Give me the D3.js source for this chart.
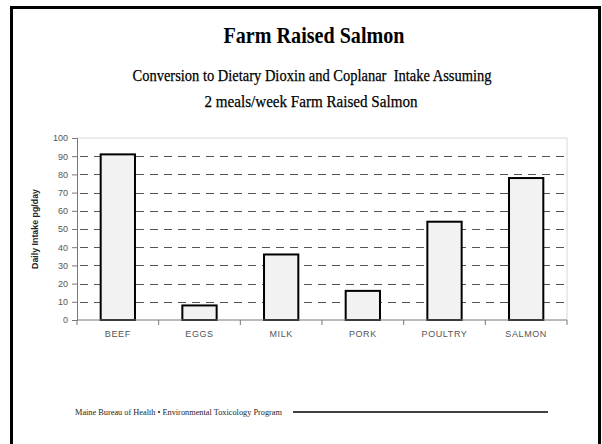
<!DOCTYPE html>
<html>
<head>
<meta charset="utf-8">
<script src="https://cdn.jsdelivr.net/npm/d3@7"></script>
<style>
  body { margin: 0; background: #fff; }
  svg { display: block; }
</style>
</head>
<body>
<svg id="chart" width="602" height="444"></svg>
<script>
// chart data
const categories = ["BEEF", "EGGS", "MILK", "PORK", "POULTRY", "SALMON"];
const intake = [91, 8, 36, 16, 54, 78];
const yTicks = [0, 10, 20, 30, 40, 50, 60, 70, 80, 90, 100];

const titleText = "Farm Raised Salmon";
const subLine1 = "Conversion to Dietary Dioxin and Coplanar  Intake Assuming";
const subLine2 = "2 meals/week Farm Raised Salmon";
const footerText = "Maine Bureau of Health \u2022 Environmental Toxicology Program";
const yLabel = "Daily Intake pg/day";

svg = d3.select("#chart");

// slide frame
svg.append("rect")
    .attr("x", 11.5).attr("y", 7.5)
    .attr("width", 588).attr("height", 460)
    .attr("fill", "white")
    .attr("stroke", "black")
    .attr("stroke-width", 3);

// titles
svg.append("text")
    .attr("x", 314).attr("y", 43)
    .attr("text-anchor", "middle")
    .style("font-family", "Liberation Serif, serif")
    .style("font-weight", "bold")
    .style("font-size", "24px")
    .attr("textLength", 181).attr("lengthAdjust", "spacingAndGlyphs")
    .text(titleText);

svg.append("text")
    .attr("x", 312).attr("y", 81)
    .attr("text-anchor", "middle")
    .style("font-family", "Liberation Serif, serif")
    .style("font-size", "17px")
    .style("white-space", "pre")
    .attr("stroke", "black").attr("stroke-width", 0.25)
    .attr("textLength", 359).attr("lengthAdjust", "spacingAndGlyphs")
    .text(subLine1);

svg.append("text")
    .attr("x", 311).attr("y", 107)
    .attr("text-anchor", "middle")
    .style("font-family", "Liberation Serif, serif")
    .style("font-size", "17px")
    .attr("stroke", "black").attr("stroke-width", 0.25)
    .attr("textLength", 213).attr("lengthAdjust", "spacingAndGlyphs")
    .text(subLine2);

// plot area
margin = {left: 77, right: 567, top: 138, bottom: 320};

x = d3.scaleBand().domain(categories).range([margin.left, margin.right]).paddingInner(0.58).paddingOuter(0.29);
y = d3.scaleLinear().domain([0, 100]).range([margin.bottom, margin.top]);

// light plot border (top & right)
svg.append("path")
    .attr("d", `M${margin.left},${margin.top}H${margin.right}V${margin.bottom}`)
    .attr("fill", "none")
    .attr("stroke", "#d8d8d8")
    .attr("stroke-width", 1);

// dashed gridlines
svg.selectAll(".grid")
    .data(yTicks.filter(d => d > 0 && d < 100))
    .join("line")
    .classed("grid", true)
    .attr("x1", margin.left).attr("x2", margin.right)
    .attr("y1", d => Math.round(y(d)) + 0.5)
    .attr("y2", d => Math.round(y(d)) + 0.5)
    .attr("stroke", "#555")
    .attr("stroke-width", 1)
    .attr("stroke-dasharray", "8,6")
    .attr("stroke-dashoffset", -3);

// bars
svg.selectAll(".bar")
    .data(categories)
    .join("rect")
    .classed("bar", true)
    .attr("x", d => x(d))
    .attr("width", x.bandwidth())
    .attr("y", (d, i) => y(intake[i]))
    .attr("height", (d, i) => y(0) - y(intake[i]))
    .attr("fill", "#f2f2f2")
    .attr("stroke", "black")
    .attr("stroke-width", 2);

// y axis
yAxis = d3.axisLeft(y).tickValues(yTicks).tickSize(5).tickPadding(4);
yg = svg.append("g")
    .attr("transform", `translate(${margin.left},0)`)
    .call(yAxis);
yg.select(".domain").attr("stroke", "#777");
yg.selectAll(".tick line").attr("stroke", "#777");
yg.selectAll(".tick text")
    .attr("fill", "#555")
    .style("font-family", "Liberation Sans, Arial, sans-serif")
    .style("font-size", "9px");

// x axis: ticks sit between categories
xg = svg.append("g")
    .attr("transform", `translate(0,${margin.bottom})`);
xg.append("line")
    .attr("x1", margin.left).attr("x2", margin.right)
    .attr("stroke", "#777");
bounds = d3.range(categories.length + 1).map(i => margin.left + i * x.step());
xg.selectAll(".xtick")
    .data(bounds)
    .join("line")
    .classed("xtick", true)
    .attr("x1", d => d).attr("x2", d => d)
    .attr("y1", 0).attr("y2", 5)
    .attr("stroke", "#777");
xg.selectAll(".xlabel")
    .data(categories)
    .join("text")
    .classed("xlabel", true)
    .attr("x", d => x(d) + x.bandwidth() / 2)
    .attr("y", 17)
    .attr("text-anchor", "middle")
    .attr("fill", "#555")
    .style("font-family", "Liberation Sans, Arial, sans-serif")
    .style("font-size", "9px")
    .style("letter-spacing", "0.6px")
    .text(d => d);

// y label
svg.append("text")
    .attr("transform", `translate(38,${(margin.top + margin.bottom) / 2}) rotate(-90)`)
    .attr("text-anchor", "middle")
    .style("font-family", "Liberation Sans, Arial, sans-serif")
    .style("font-weight", "bold")
    .style("font-size", "8.5px")
    .attr("fill", "#222")
    .attr("textLength", 80).attr("lengthAdjust", "spacingAndGlyphs")
    .text(yLabel);

// footer
svg.append("text")
    .attr("x", 75).attr("y", 415)
    .style("font-family", "Liberation Serif, serif")
    .style("font-size", "9px")
    .attr("fill", "#222")
    .attr("textLength", 207).attr("lengthAdjust", "spacingAndGlyphs")
    .text(footerText);

svg.append("line")
    .attr("x1", 293).attr("x2", 548)
    .attr("y1", 412).attr("y2", 412)
    .attr("stroke", "black")
    .attr("stroke-width", 1.5);
</script>
</body>
</html>
